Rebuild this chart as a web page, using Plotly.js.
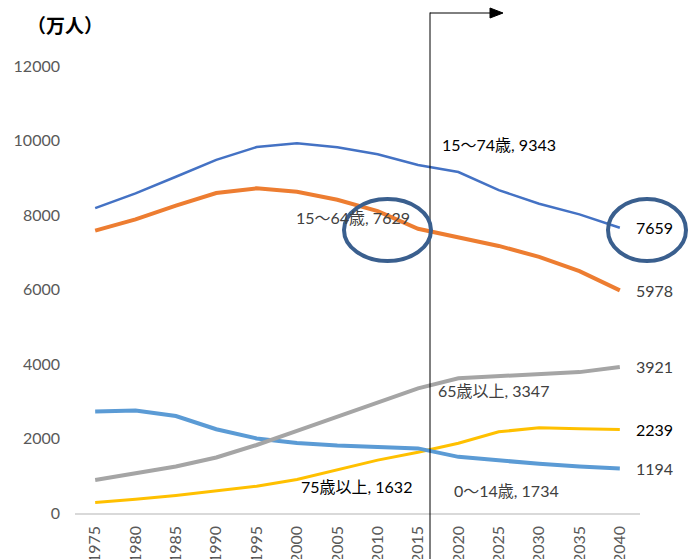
<!DOCTYPE html>
<html>
<head>
<meta charset="utf-8">
<script src="https://cdn.plot.ly/plotly-3.0.1.min.js"></script>
<style>html,body{margin:0;padding:0;background:#fff;}#chart{width:688px;height:559px;}</style>
</head>
<body>
<div id="chart"></div>
<script>
const years = ['1975','1980','1985','1990','1995','2000','2005','2010','2015','2020','2025','2030','2035','2040'];
const age15to74 = [8184, 8582, 9027, 9482, 9825, 9925, 9821, 9632, 9343, 9153, 8667, 8303, 8016, 7659];
const age15to64 = [7581, 7883, 8251, 8590, 8716, 8622, 8409, 8103, 7629, 7406, 7170, 6875, 6494, 5978];
const age65plus = [887, 1065, 1247, 1489, 1826, 2204, 2576, 2948, 3347, 3619, 3677, 3716, 3782, 3921];
const age0to14 = [2722, 2751, 2603, 2249, 2001, 1880, 1815, 1785, 1734, 1507, 1407, 1321, 1246, 1194];
const age75plus = [284, 366, 471, 597, 717, 901, 1164, 1419, 1632, 1872, 2180, 2288, 2260, 2239];

const FONT = 'Lato, "Noto Sans CJK JP", sans-serif';
const L = 75, R = 48, T = 66, B = 46, W = 688, H = 559;
const pw = W - L - R, ph = H - T - B;
const px = x => (x - L) / pw;
const py = y => (H - B - y) / ph;

function tr(y, color, width) {
  return {x: years, y: y, type: 'scatter', mode: 'lines',
    line: {color: color, width: width, shape: 'linear'}, hoverinfo: 'skip', cliponaxis: false};
}
const data = [
  tr(age75plus, '#FFC000', 3),
  tr(age0to14, '#5B9BD5', 4),
  tr(age65plus, '#A5A5A5', 4),
  tr(age15to64, '#ED7D31', 4),
  tr(age15to74, '#4472C4', 2.5)
];

const dark = '#000000', grey = '#404040';
function endLabel(vals, color) {
  return {xref: 'x', yref: 'y', x: 13, y: vals[13], text: String(vals[13]), showarrow: false,
    xanchor: 'left', xshift: 14, font: {family: FONT, size: 16, color: color}};
}
function freeLabel(cx, cy, text, color) {
  return {xref: 'paper', yref: 'paper', x: px(cx), y: py(cy), text: text, showarrow: false,
    xanchor: 'center', yanchor: 'middle', font: {family: FONT, size: 16, color: color}};
}
const annotations = [
  {xref: 'paper', yref: 'paper', x: px(65), y: py(25), text: '<b>（万人）</b>', showarrow: false,
   xanchor: 'center', yanchor: 'middle', font: {family: '"Noto Sans CJK JP", sans-serif', size: 19, color: '#000'}},
  endLabel(age15to74, dark),
  endLabel(age15to64, grey),
  endLabel(age65plus, grey),
  endLabel(age75plus, dark),
  endLabel(age0to14, grey),
  freeLabel(499, 144, '15～74歳, ' + age15to74[8], dark),
  freeLabel(353, 217, '15～64歳, ' + age15to64[8], grey),
  freeLabel(493, 390, '65歳以上, ' + age65plus[8], grey),
  freeLabel(356, 486, '75歳以上, ' + age75plus[8], dark),
  freeLabel(506, 490, '0～14歳, ' + age0to14[8], grey)
];

const shapes = [
  {type: 'line', xref: 'paper', yref: 'paper', x0: px(430), x1: px(430), y0: py(12.5), y1: py(560),
   line: {color: '#000', width: 1}},
  {type: 'line', xref: 'paper', yref: 'paper', x0: px(430), x1: px(491), y0: py(13), y1: py(13),
   line: {color: '#000', width: 1}},
  {type: 'path', xref: 'paper', yref: 'paper',
   path: `M ${px(490)} ${py(8)} L ${px(503)} ${py(13)} L ${px(490)} ${py(18)} Z`,
   fillcolor: '#000', line: {color: '#000', width: 1}},
  {type: 'circle', xref: 'paper', yref: 'paper', x0: px(344), x1: px(431), y0: py(199), y1: py(261),
   line: {color: '#3A5F8E', width: 4}},
  {type: 'circle', xref: 'paper', yref: 'paper', x0: px(608), x1: px(686), y0: py(199), y1: py(261),
   line: {color: '#3A5F8E', width: 4}}
];

const layout = {
  width: W, height: H,
  margin: {l: L, r: R, t: T, b: B, pad: 0},
  paper_bgcolor: '#fff', plot_bgcolor: '#fff',
  showlegend: false,
  font: {family: FONT, size: 16, color: '#595959'},
  xaxis: {type: 'category', range: [-0.5, 13.5], showgrid: false, zeroline: false,
    showline: true, linecolor: '#D9D9D9', linewidth: 1.5, ticks: '', tickangle: -90,
    ticklabelstandoff: 5,
    tickfont: {family: FONT, size: 16, color: '#595959'}, automargin: false, fixedrange: true},
  yaxis: {range: [0, 12000], dtick: 2000, tick0: 0, tickformat: 'd', showgrid: false, zeroline: false, showline: false,
    ticks: '', ticklabelstandoff: 14, tickfont: {family: FONT, size: 16, color: '#595959'},
    automargin: false, fixedrange: true},
  annotations: annotations,
  shapes: shapes
};

Plotly.newPlot('chart', data, layout, {displayModeBar: false, staticPlot: true});
</script>
</body>
</html>
